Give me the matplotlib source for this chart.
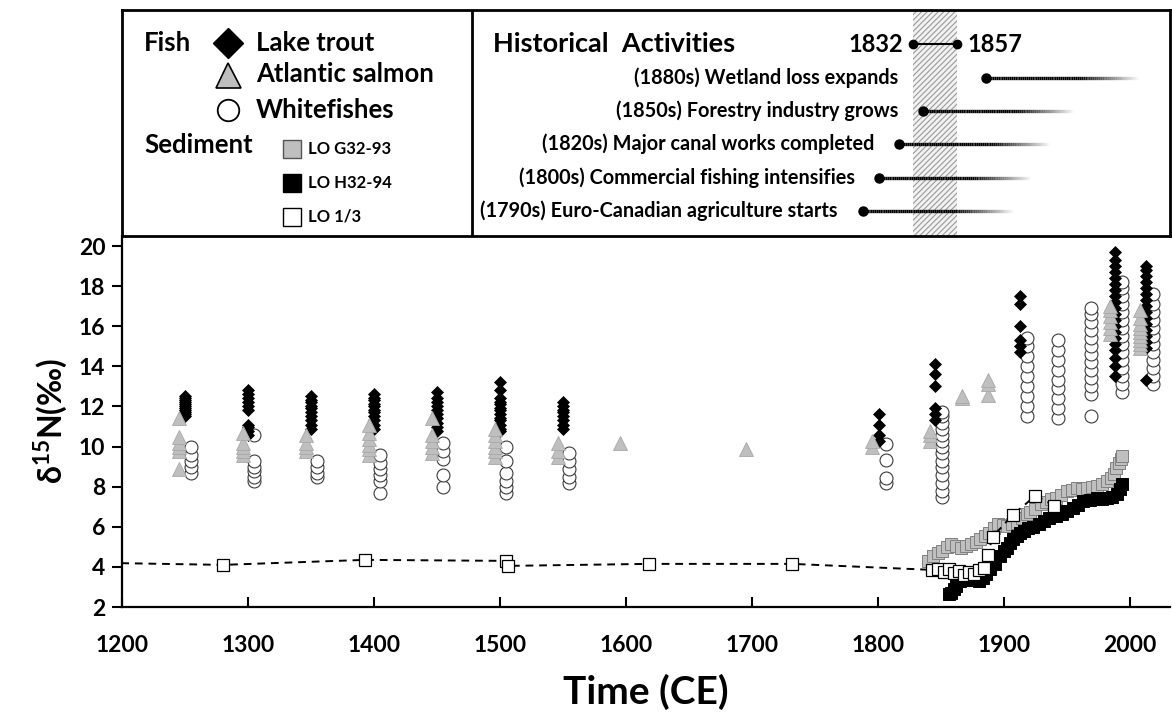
import numpy as np
import matplotlib.pyplot as plt
from matplotlib.collections import LineCollection

plt.rcParams['font.family'] = ['Lato', 'DejaVu Sans']
plt.rcParams['font.weight'] = 'bold'
plt.rcParams['axes.labelweight'] = 'bold'
plt.rcParams['mathtext.fontset'] = 'custom'
plt.rcParams['mathtext.bf'] = 'Lato:bold'
plt.rcParams['mathtext.rm'] = 'Lato:bold'
plt.rcParams['hatch.color'] = '#9a9a9a'
plt.rcParams['hatch.linewidth'] = 0.8

# ---- fish d15N ----
trout_years = [1250, 1300, 1350, 1400, 1450, 1500, 1550, 1801, 1845, 1913, 1988, 2013]
trout_vals = [
    [11.5, 11.6, 11.7, 11.8, 11.9, 12.0, 12.1, 12.2, 12.3, 12.4, 12.5],
    [10.6, 10.8, 11.0, 11.1, 11.8, 12.0, 12.2, 12.4, 12.6, 12.8],
    [10.9, 11.1, 11.3, 11.5, 11.7, 11.9, 12.0, 12.2, 12.3, 12.5],
    [10.9, 11.1, 11.3, 11.5, 11.7, 11.8, 12.0, 12.1, 12.3, 12.4, 12.6],
    [10.8, 11.0, 11.2, 11.4, 11.6, 11.8, 12.0, 12.2, 12.4, 12.7],
    [10.8, 10.9, 11.1, 11.3, 11.4, 11.6, 11.8, 11.9, 12.1, 12.2, 12.4, 12.8, 13.2],
    [10.9, 11.1, 11.3, 11.5, 11.7, 11.8, 12.0, 12.2],
    [10.3, 10.6, 11.1, 11.6],
    [11.3, 11.6, 11.9, 13.0, 13.6, 14.1],
    [14.7, 15.0, 15.3, 16.0, 17.1, 17.5],
    [13.5, 14.0, 14.4, 14.8, 15.1, 15.4, 15.7, 16.0, 16.3, 16.6, 16.9, 17.2,
     17.5, 17.8, 18.1, 18.4, 18.7, 19.0, 19.3, 19.7],
    [13.3, 14.9, 15.2, 15.5, 15.8, 16.1, 16.4, 16.7, 17.0, 17.3, 17.6, 17.9,
     18.2, 18.5, 18.8, 19.0],
]

salmon_years = [1245, 1296, 1346, 1396, 1446, 1496, 1546, 1595, 1695, 1795,
                1841, 1867, 1887, 1984, 2008]
salmon_vals = [
    [8.9, 9.8, 10.0, 10.2, 10.5, 11.4],
    [9.6, 9.8, 10.0, 10.2, 10.7],
    [9.8, 10.0, 10.2, 10.6],
    [9.6, 9.9, 10.1, 10.4, 10.7, 11.1],
    [9.7, 10.0, 10.3, 10.6, 11.4],
    [9.5, 9.8, 10.0, 10.3, 10.6, 10.9],
    [9.5, 9.8, 10.2],
    [10.2],
    [9.9],
    [10.0, 10.3],
    [10.3, 10.6, 10.8],
    [12.4, 12.5],
    [12.55, 13.1, 13.3],
    [15.6, 15.9, 16.2, 16.5, 16.8, 17.0],
    [14.9, 15.1, 15.3, 15.5, 15.7, 15.9, 16.1, 16.4, 16.8],
]

white_years = [1255, 1305, 1355, 1405, 1455, 1505, 1555, 1806, 1851, 1918,
               1943, 1969, 1994, 2018]
white_vals = [
    [8.7, 9.0, 9.3, 9.6, 10.0],
    [8.3, 8.5, 8.8, 9.0, 9.3, 10.6],
    [8.5, 8.7, 9.0, 9.3],
    [7.7, 8.3, 8.6, 8.9, 9.2, 9.6],
    [8.0, 8.6, 9.4, 9.8, 10.2],
    [7.7, 8.0, 8.3, 8.7, 9.3, 10.0],
    [8.2, 8.5, 8.9, 9.3, 9.7],
    [8.2, 8.45, 9.35, 10.15],
    [7.5, 7.8, 8.2, 8.6, 9.0, 9.3, 9.7, 10.0, 10.3, 10.6, 10.9, 11.2, 11.5, 11.7],
    [11.5, 12.0, 12.5, 13.0, 13.5, 14.0, 14.5, 15.0, 15.4],
    [11.4, 11.9, 12.4, 12.9, 13.3, 13.8, 14.3, 14.8, 15.3],
    [11.5, 12.6, 13.0, 13.4, 13.8, 14.2, 14.6, 15.0, 15.4, 15.8, 16.2, 16.6, 16.9],
    [12.7, 13.1, 13.5, 13.9, 14.3, 14.7, 15.1, 15.5, 15.9, 16.3, 16.7, 17.1,
     17.5, 17.9, 18.2],
    [13.1, 13.5, 13.9, 14.3, 14.7, 15.1, 15.5, 15.9, 16.3, 16.7, 17.1, 17.6],
]

# ---- sediment cores ----
g32_years = [1840, 1844, 1848, 1851, 1855, 1858, 1862, 1866, 1870, 1874, 1878,
             1881, 1885, 1888, 1892, 1895, 1899, 1902, 1906, 1910, 1914, 1918,
             1921, 1925, 1929, 1933, 1937, 1941, 1945, 1950, 1954, 1958, 1962,
             1966, 1970, 1974, 1978, 1982, 1985, 1987, 1989, 1991, 1993, 1994]
g32_vals = [4.3, 4.55, 4.7, 4.8, 5.0, 5.15, 5.05, 4.95, 5.05, 5.15, 5.25,
            5.4, 5.55, 5.7, 5.95, 6.15, 6.1, 6.05, 6.15, 6.2, 6.45, 6.65,
            6.75, 6.9, 7.15, 7.25, 7.4, 7.45, 7.6, 7.8, 7.85, 7.95, 7.9,
            7.95, 8.0, 8.05, 8.15, 8.3, 8.45, 8.65, 8.95, 9.2, 9.4, 9.55]

h32_years = [1856, 1858, 1860, 1862, 1865, 1868, 1872, 1876, 1880, 1883, 1886,
             1889, 1893, 1897, 1900, 1902, 1905, 1907, 1910, 1913, 1916, 1919,
             1923, 1928, 1932, 1936, 1941, 1946, 1950, 1955, 1959, 1963, 1968,
             1974, 1978, 1982, 1986, 1990, 1992, 1994]
h32_vals = [2.65, 2.7, 2.9, 3.05, 3.3, 3.35, 3.4, 3.35, 3.3, 3.45, 3.65,
            3.9, 4.15, 4.55, 4.8, 4.95, 5.2, 5.4, 5.55, 5.7, 5.8, 5.95,
            6.0, 6.15, 6.3, 6.45, 6.55, 6.65, 6.8, 6.95, 7.1, 7.3, 7.35,
            7.45, 7.4, 7.45, 7.5, 7.65, 7.9, 8.15]

lo13_years = [1167, 1280, 1393, 1505, 1506, 1618, 1732, 1843, 1848, 1852, 1856,
              1860, 1864, 1868, 1872, 1876, 1880, 1884, 1887, 1891, 1907, 1925, 1940]
lo13_vals = [4.22, 4.1, 4.35, 4.3, 4.05, 4.15, 4.15, 3.85, 3.9, 3.75, 3.9,
             3.7, 3.8, 3.6, 3.75, 3.65, 3.85, 3.95, 4.6, 5.5, 6.6, 7.55, 7.05]

# ---- historical activities ----
period_labels = ['1832', '1857']
activity_labels = ['(1880s) Wetland loss expands',
                   '(1850s) Forestry industry grows',
                   '(1820s) Major canal works completed',
                   '(1800s) Commercial fishing intensifies',
                   '(1790s) Euro-Canadian agriculture starts']
activity_start = [1886, 1836, 1817, 1801, 1788]
activity_end = [2006, 1955, 1936, 1921, 1907]


def flat(years, vals):
    xs, ys = [], []
    for yv, v in zip(years, vals):
        xs += [yv] * len(v)
        ys += v
    return xs, ys


W, H = 1172, 713
fig = plt.figure(figsize=(W / 100, H / 100), dpi=100)
x_right = 1200 + (1170 - 122) / 1.26


def yr(px):
    # pixel column -> year on the shared time axis
    return 1200 + (px - 122) / 1.26


ax = fig.add_axes([122 / W, 1 - 607 / H, (1170 - 122) / W, (607 - 236) / H])
ax.set_xlim(1200, x_right)
ax.set_ylim(2, 20.5)

x, y = flat(white_years, white_vals)
ax.plot(x, y, 'o', ms=9.3, mfc='white', mec='#3a3a3a', mew=0.8, ls='none', zorder=3)
x, y = flat(trout_years, trout_vals)
ax.plot(x, y, 'D', ms=6.3, mfc='black', mec='black', mew=0.5, ls='none', zorder=4)
x, y = flat(salmon_years, salmon_vals)
ax.plot(x, y, '^', ms=10.5, mfc='#bfbfbf', mec='#a8a8a8', mew=0.6, ls='none', zorder=5)

ax.plot(g32_years, g32_vals, 's', ms=8.3, mfc='#bfbfbf', mec='#808080', mew=0.7, ls='none', zorder=6)
ax.plot(h32_years, h32_vals, 's', ms=8.3, mfc='black', mec='black', mew=0.7, ls='none', zorder=7)
ax.plot(lo13_years, lo13_vals, ls=(0, (4, 3)), color='black', lw=1.4, zorder=8)
ax.plot(lo13_years, lo13_vals, 's', ms=8.3, mfc='white', mec='black', mew=0.9, ls='none', zorder=9)

ax.spines['top'].set_visible(False)
ax.spines['right'].set_visible(False)
ax.spines['left'].set_linewidth(1.6)
ax.spines['bottom'].set_linewidth(1.6)
ax.set_xticks(range(1200, 2001, 100))
ax.set_yticks(range(2, 21, 2))
ax.tick_params(axis='x', direction='in', length=7, width=1.5, pad=20, labelsize=16.5)
ax.tick_params(axis='y', direction='out', length=7, width=1.5, pad=5, labelsize=16.5)
ax.set_xlabel('Time (CE)', fontsize=28, labelpad=13)
ax.set_ylabel(r'δ$^{\mathbf{15}}$N(‰)', fontsize=23, labelpad=6)

# ---- top panel ----
top = fig.add_axes([122 / W, 1 - 236 / H, (1170 - 122) / W, (236 - 10) / H])
top.set_xlim(1200, x_right)
top.set_ylim(236, 10)
top.set_xticks([])
top.set_yticks([])
for s in top.spines.values():
    s.set_linewidth(2)
top.axvline(yr(472), color='black', lw=2)
top.axvspan(yr(913), yr(957), facecolor='#f2f2f2', edgecolor='#9a9a9a',
            hatch='//////', lw=0)

# legend block
top.text(yr(144), 43, 'Fish', fontsize=18.5, va='center')
top.plot(yr(228), 43, 'D', ms=15, color='black')
top.text(yr(256), 43, 'Lake trout', fontsize=18.5, va='center')
top.plot(yr(228), 75, '^', ms=18, mfc='#bfbfbf', mec='black', mew=1.2)
top.text(yr(256), 74, 'Atlantic salmon', fontsize=18.5, va='center')
top.plot(yr(228), 110, 'o', ms=15.5, mfc='white', mec='black', mew=1.3)
top.text(yr(256), 110, 'Whitefishes', fontsize=18.5, va='center')
top.text(yr(144), 145, 'Sediment', fontsize=18.5, va='center')
sed_names = ['LO G32-93', 'LO H32-94', 'LO 1/3']
sed_fill = ['#bfbfbf', 'black', 'white']
for i, (name, fc) in enumerate(zip(sed_names, sed_fill)):
    yy = [149, 183, 217][i]
    top.plot(yr(292), yy, 's', ms=13, mfc=fc, mec='black' if fc != '#bfbfbf' else '#555555', mew=1)
    top.text(yr(308), yy, name, fontsize=12, va='center')

# activities block
top.text(yr(493), 44, 'Historical  Activities', fontsize=19.5, va='center')
top.plot([yr(913), yr(957)], [44, 44], '-o', color='black', ms=6, lw=1.5)
top.text(yr(903), 45, period_labels[0], fontsize=17, va='center', ha='right')
top.text(yr(967), 45, period_labels[1], fontsize=17, va='center', ha='left')

rows = [78, 111, 144, 178, 211]
text_right = [898, 898, 874, 855, 838]
for lab, x0, x1, yy, tr in zip(activity_labels, activity_start, activity_end, rows, text_right):
    top.text(yr(tr), yy, lab, fontsize=14.3, va='center', ha='right')
    xs = np.linspace(x0, x1, 81)
    segs = [[(xs[i], yy), (xs[i + 1], yy)] for i in range(80)]
    frac = (xs[:-1] - x0) / (x1 - x0)
    alpha = np.clip((1 - frac) / 0.4, 0, 1)
    lc = LineCollection(segs, colors=[(0, 0, 0, a) for a in alpha], linewidths=2.4)
    top.add_collection(lc)
    top.plot(x0, yy, 'o', color='black', ms=6.5)

fig.savefig('out.png', dpi=100)
